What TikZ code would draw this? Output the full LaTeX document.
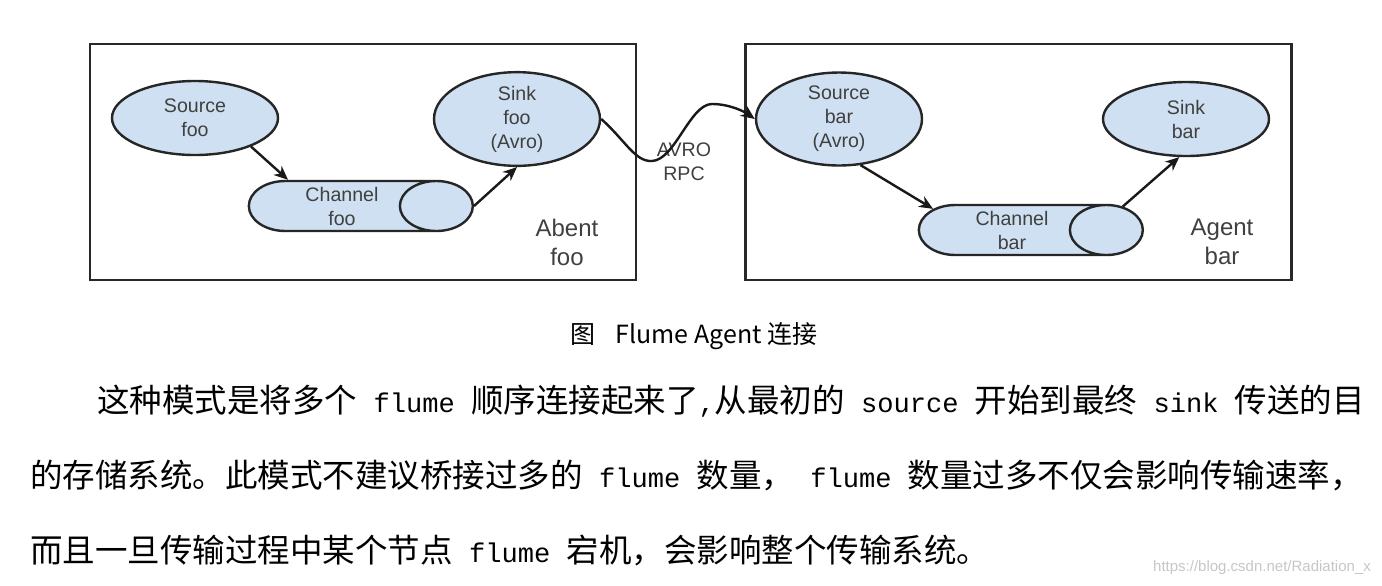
\documentclass[tikz,border=0pt]{standalone}
\usepackage{fontspec}
\setmainfont{Liberation Sans}
\newfontfamily\cjk{Noto Sans CJK SC}
\newfontfamily\latmono[Scale=0.8333]{Liberation Mono}
\usetikzlibrary{shapes.geometric,arrows.meta,calc}
\definecolor{flumeblue}{RGB}{207,224,242}
\definecolor{inkgray}{RGB}{40,40,40}
\newcommand{\fl}[1]{\hspace{0.5em}{\latmono #1}\hspace{0.5em}}

\begin{document}
\begin{tikzpicture}[x=0.5pt,y=-0.5pt,
            agentbox/.style={draw=inkgray, line width=1.4pt, minimum width=273pt,
                    minimum height=118pt, inner sep=0pt},
            comp/.style={ellipse, draw=black!85, line width=1.2pt, fill=flumeblue,
                    minimum width=83pt, minimum height=37pt, inner sep=0pt,
                    align=center, font=\fontsize{9.8}{12}\selectfont, text=black!75},
            chan/.style={cylinder, shape border rotate=0, aspect=1.9, draw=black!85,
                    line width=1.2pt, fill=flumeblue, minimum height=112pt,
                    minimum width=25pt, inner sep=0pt, align=center,
                    font=\fontsize{9.8}{12}\selectfont, text=black!75},
            flow/.style={-{Stealth[length=7pt,width=6pt]}, line width=1.2pt, black!90},
            lab/.style={align=center, text=black!75},
            para/.style={anchor=base west, inner sep=0pt, font=\cjk\fontsize{16.25}{20}\selectfont}
        ]
        \useasboundingbox[fill=white] (0,0) rectangle (1382,585);

        % two agents
        \node[agentbox] (agentfoo) at (363,162) {};
        \node[agentbox] (agentbar) at (1018.5,162) {};

        \node[comp] (srcfoo) at (195,118) {Source\\foo};
        \node[chan] (chfoo) at (342,206) {Channel\\foo};
        \node[comp] (sinkfoo) at (517,119) {Sink\\foo\\(Avro)};

        \node[comp] (srcbar) at (839,119) {Source\\bar\\(Avro)};
        \node[chan] (chbar) at (1012,230) {Channel\\bar};
        \node[comp] (sinkbar) at (1186,119) {Sink\\bar};

        \node[lab, font=\fontsize{12}{14.5}\selectfont] (abentfoo) at (567,242) {Abent\\foo};
        \node[lab, font=\fontsize{12}{14.5}\selectfont] (agentbarlab) at (1222,242) {Agent\\bar};
        \node[lab, font=\fontsize{9.8}{12}\selectfont] (rpc) at (684,162) {AVRO\\RPC};

        \draw[flow] (srcfoo.-27) -- ($(chfoo.north)+(-54,0)$);
        \draw[flow] (chfoo.east) -- (sinkfoo.south);
        \draw[flow] (srcbar.-65) -- (chbar.165);
        \draw[flow] (chbar.12) -- (sinkbar.-100);

        % avro rpc hop
        \coordinate (wlow) at (652,161);
        \coordinate (whigh) at (712,104);
        \draw[flow] (sinkfoo.east) .. controls (625,140) and (635,162) .. (wlow)
            .. controls (675,160) and (690,104) .. (whigh)
            .. controls (730,104) and (745,112) .. (srcbar.west);

        % caption and text
        \node[font=\cjk\fontsize{12.5}{15}\selectfont] (caption) at (694,336) {图\hspace{0.8em}Flume Agent 连接};
        \node[para] (line1) at (97,412) {这种模式是将多个\fl{flume}顺序连接起来了{\latmono,}从最初的\fl{source}开始到最终\fl{sink}传送的目};
        \node[para] (line2) at (30,487) {的存储系统。此模式不建议桥接过多的\fl{flume}数量，\fl{flume}数量过多不仅会影响传输速率，};
        \node[para] (line3) at (30,562) {而且一旦传输过程中某个节点\fl{flume}宕机，会影响整个传输系统。};
        \node[font=\fontsize{7.5}{9}\selectfont, text=black!22] (mark) at (1262,568) {https://blog.csdn.net/Radiation\_x};
    \end{tikzpicture}
\end{document}
